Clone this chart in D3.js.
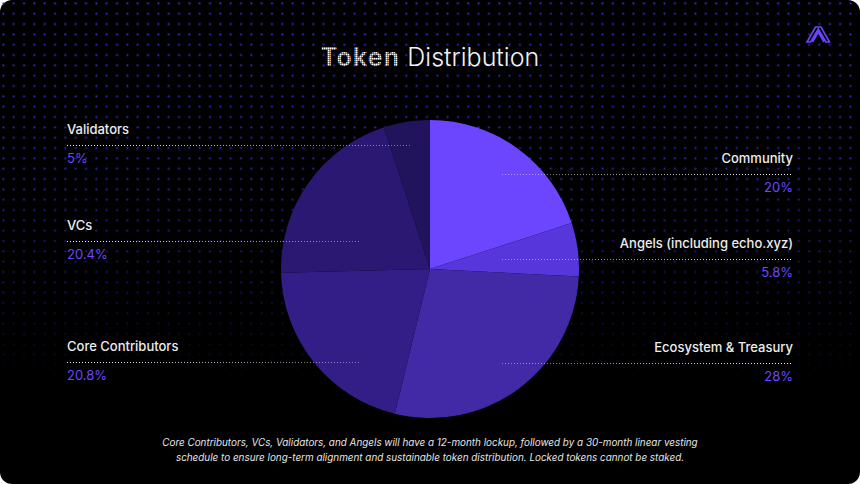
<!DOCTYPE html>
<html>
<head>
<meta charset="utf-8">
<script src="https://cdn.jsdelivr.net/npm/d3@7"></script>
<style>
  html, body { margin: 0; padding: 0; background: #ffffff; }
  svg { display: block; }
</style>
</head>
<body>
<svg id="chart" width="860" height="484"></svg>
<script>
// slices, clockwise from 12 o'clock
var sliceNames = ["Community", "Angels (including echo.xyz)", "Ecosystem & Treasury",
                  "Core Contributors", "VCs", "Validators"];
var sliceValues = [20, 5.8, 28, 20.8, 20.4, 5];
var sliceLabels = ["20%", "5.8%", "28%", "20.8%", "20.4%", "5%"];
var sliceColors = ["#6b46fe", "#5736dc", "#4229a6", "#321e86", "#2a1873", "#22145c"];
// which side of the chart each label sits on
var labelSide = ["right", "right", "right", "left", "left", "left"];
var labelY = [163, 248, 352, 351, 230, 134];
var lineEnd = [502, 502, 502, 360, 360, 412];

var footnote = [
  "Core Contributors, VCs, Validators, and Angels will have a 12-month lockup, followed by a 30-month linear vesting",
  "schedule to ensure long-term alignment and sustainable token distribution. Locked tokens cannot be staked."
];

var W = 860, H = 484;
var svg = d3.select("#chart");
var defs = svg.append("defs");

// background dot grid
var dotPat = defs.append("pattern").attr("id", "dots")
    .attr("patternUnits", "userSpaceOnUse")
    .attr("x", -1.7).attr("y", -1.7)
    .attr("width", 10.33).attr("height", 10.33);
dotPat.append("rect").attr("x", 4.2).attr("y", 4.2).attr("width", 1.8).attr("height", 1.8)
    .attr("fill", "#3d2ce0");

var fade = defs.append("linearGradient").attr("id", "fadeGrad")
    .attr("x1", 0).attr("y1", 0).attr("x2", 0).attr("y2", 1);
fade.append("stop").attr("offset", "0%").attr("stop-color", "#fff").attr("stop-opacity", 1);
fade.append("stop").attr("offset", "35%").attr("stop-color", "#fff").attr("stop-opacity", 0.85);
fade.append("stop").attr("offset", "62%").attr("stop-color", "#fff").attr("stop-opacity", 0.4);
fade.append("stop").attr("offset", "82%").attr("stop-color", "#fff").attr("stop-opacity", 0);
defs.append("mask").attr("id", "fadeMask")
    .append("rect").attr("width", W).attr("height", H).attr("fill", "url(#fadeGrad)");

// pixel style fill for "Token"
var pixPat = defs.append("pattern").attr("id", "pix")
    .attr("patternUnits", "userSpaceOnUse")
    .attr("width", 2).attr("height", 2);
pixPat.append("rect").attr("width", 1.6).attr("height", 1.6).attr("fill", "#ffffff");

svg.append("rect").attr("width", W).attr("height", H).attr("rx", 12).attr("fill", "#000");
svg.append("rect").attr("x", 2).attr("y", 2).attr("width", W - 4).attr("height", H - 4)
    .attr("fill", "url(#dots)").attr("mask", "url(#fadeMask)");

// title
var title = svg.append("text").attr("x", 430).attr("y", 66)
    .attr("text-anchor", "middle")
    .attr("font-family", "Inter, 'DejaVu Sans', sans-serif")
    .attr("font-size", 25);
title.append("tspan").attr("font-weight", 600).attr("letter-spacing", 1.2)
    .attr("fill", "url(#pix)").text("Token");
title.append("tspan").attr("font-weight", 300).attr("fill", "#f2f2f2").text(" Distribution");

// logo
svg.append("path")
    .attr("d", "M807,42 L815.5,27 L821,27 L829.5,42 L826,42 L818.3,29 L810.5,42 Z M812.5,42 L818.3,32 L824,42")
    .attr("fill", "none").attr("stroke", "#6b46fe").attr("stroke-width", 1.6)
    .attr("stroke-linejoin", "miter");

// pie
var cx = 430, cy = 269, r = 149;
var pie = d3.pie().sort(null).value(function (d) { return d; });
var arc = d3.arc().innerRadius(0).outerRadius(r);
var arcs = pie(sliceValues);

svg.append("g").attr("transform", "translate(" + cx + "," + cy + ")")
    .selectAll("path")
    .data(arcs)
    .enter().append("path")
    .attr("d", arc)
    .attr("fill", function (d, i) { return sliceColors[i]; });

// labels
var labels = svg.append("g")
    .attr("font-family", "Inter, 'DejaVu Sans', sans-serif");

sliceNames.forEach(function (name, i) {
    var left = labelSide[i] === "left";
    var x = left ? 67 : 793;
    var anchor = left ? "start" : "end";
    var y = labelY[i];
    var x1 = left ? 67 : lineEnd[i], x2 = left ? lineEnd[i] : 793;
    // leader line fades towards the pie
    var g = defs.append("linearGradient").attr("id", "lg" + i)
        .attr("gradientUnits", "userSpaceOnUse")
        .attr("x1", x1).attr("y1", 0).attr("x2", x2).attr("y2", 0);
    g.append("stop").attr("offset", "0%").attr("stop-color", "#fff")
        .attr("stop-opacity", left ? 0.95 : 0.4);
    g.append("stop").attr("offset", "100%").attr("stop-color", "#fff")
        .attr("stop-opacity", left ? 0.4 : 0.95);

    labels.append("text").attr("x", x).attr("y", y)
        .attr("text-anchor", anchor)
        .attr("font-size", 13).attr("font-weight", 500)
        .attr("fill", "#ececec").text(name);
    labels.append("line")
        .attr("x1", x1).attr("x2", x2)
        .attr("y1", y + 11.5).attr("y2", y + 11.5)
        .attr("stroke", "url(#lg" + i + ")")
        .attr("stroke-width", 1)
        .attr("stroke-dasharray", "1,2");
    labels.append("text").attr("x", x).attr("y", y + 29)
        .attr("text-anchor", anchor)
        .attr("font-size", 13).attr("font-weight", 400)
        .attr("fill", "#6b46fe").text(sliceLabels[i]);
});

// footnote
svg.append("g").selectAll("text")
    .data(footnote)
    .enter().append("text")
    .attr("x", 430)
    .attr("y", function (d, i) { return 446 + i * 15; })
    .attr("text-anchor", "middle")
    .attr("font-family", "Inter, 'DejaVu Sans', sans-serif")
    .attr("font-style", "italic")
    .attr("font-size", 9.9)
    .attr("fill", "#e6e6e6")
    .text(function (d) { return d; });
</script>
</body>
</html>
